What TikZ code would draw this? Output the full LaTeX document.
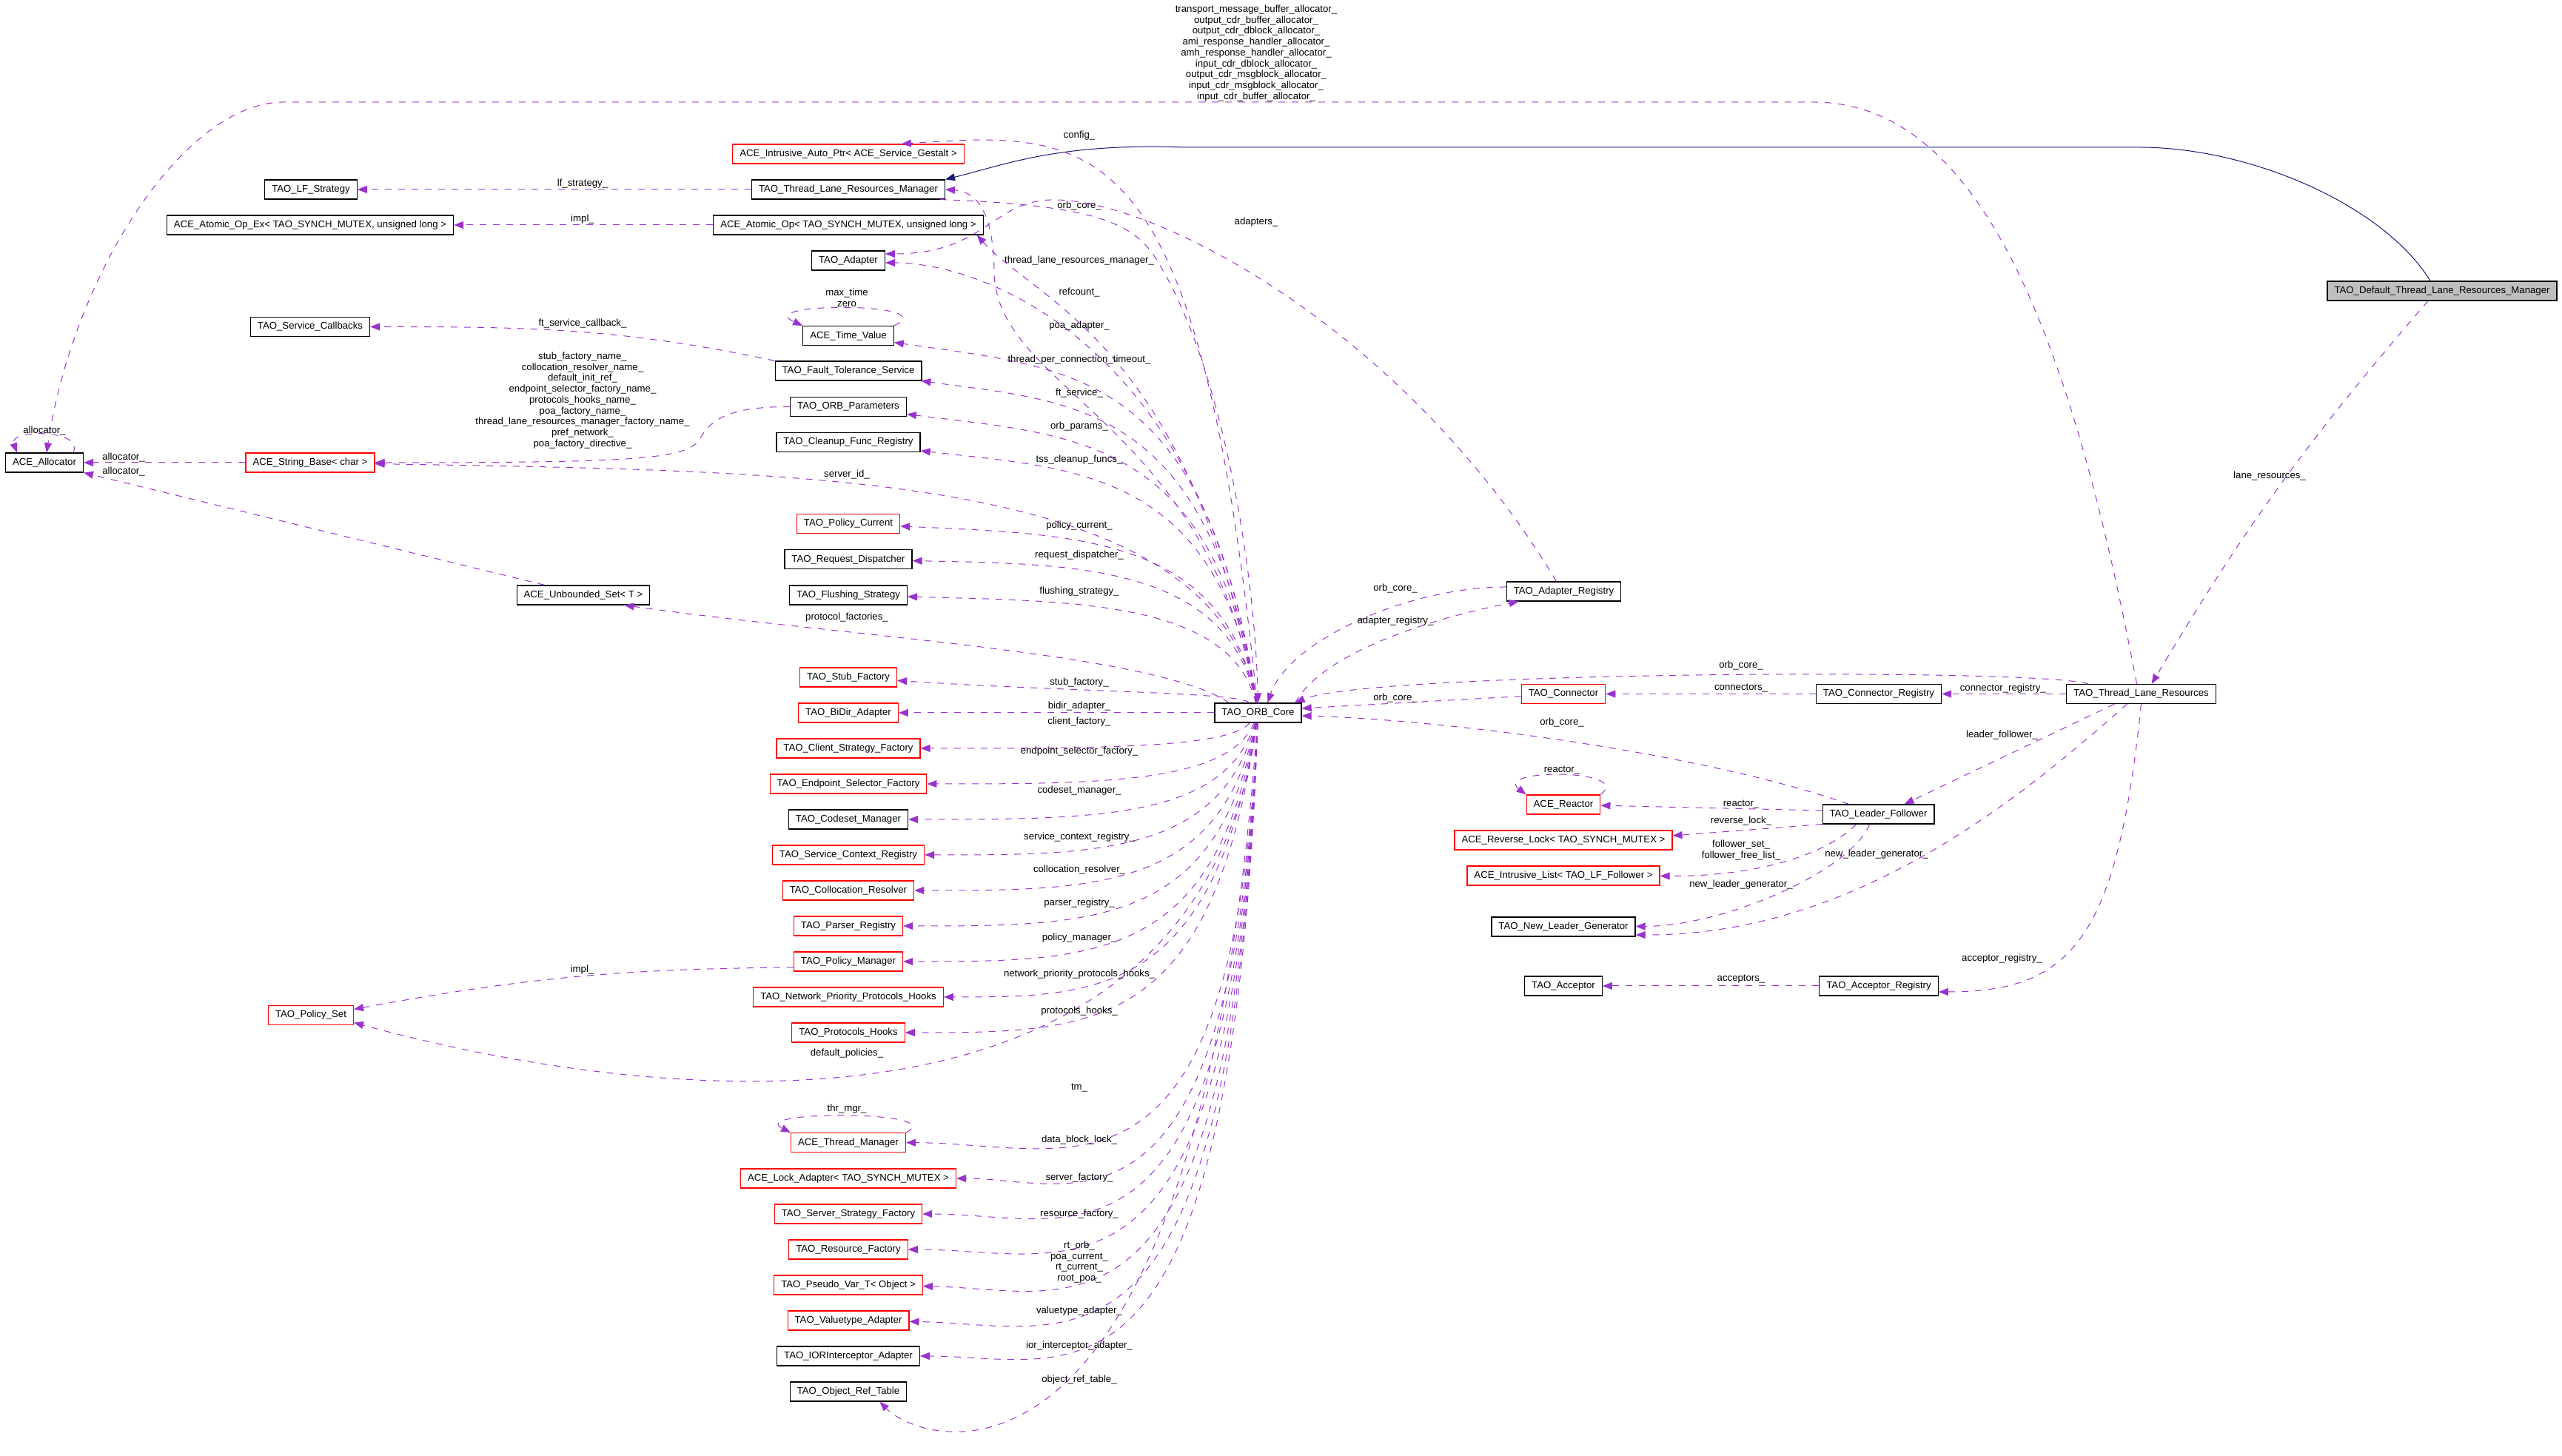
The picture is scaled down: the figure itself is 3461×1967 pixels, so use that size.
\documentclass[tikz,border=0pt]{standalone}
\usepackage{fontspec}
\setmainfont{Liberation Sans}
\usetikzlibrary{arrows.meta}

\definecolor{usecol}{HTML}{9A32CD}
\definecolor{inhcol}{HTML}{191970}
\definecolor{rootgray}{HTML}{BFBFBF}
\newcommand{\dxfont}{\fontsize{13.2}{14.7}\selectfont}

\begin{document}
\begin{tikzpicture}[x=1pt,y=1pt]

        \tikzset{cls/.style = {shape=rectangle,draw=black,line width=1.2pt,minimum height=26pt,inner xsep=9.5pt,inner ysep=0pt,font=\dxfont}}
        \tikzset{clsred/.style = {cls,draw=red}}
        \tikzset{clsroot/.style = {cls,fill=rootgray}}
        \tikzset{use/.style = {draw=usecol,line width=1pt,dash pattern=on 9pt off 9pt,-{Triangle[length=13pt,width=10pt]}}}
        \tikzset{inh/.style = {draw=inhcol,line width=1pt,-{Triangle[length=13pt,width=10pt]}}}
        \tikzset{lbl/.style = {font=\dxfont,align=center,inner sep=0pt}}

        \useasboundingbox (0,0) rectangle (3461,1967);

        % left side
        \node[cls] (alloc) at (60,1342) {ACE\_Allocator};
        \node[clsred] (strbase) at (419,1342) {ACE\_String\_Base< char >};
        \node[cls] (lfstrat) at (420,1711) {TAO\_LF\_Strategy};
        \node[cls] (atomex) at (419,1663) {ACE\_Atomic\_Op\_Ex< TAO\_SYNCH\_MUTEX, unsigned long >};
        \node[cls] (svccb) at (419,1525.5) {TAO\_Service\_Callbacks};
        \node[cls] (unbset) at (788,1163) {ACE\_Unbounded\_Set< T >};
        \node[clsred] (polset) at (420,595.5) {TAO\_Policy\_Set};

        % middle column
        \node[clsred] (autoptr) at (1146,1759) {ACE\_Intrusive\_Auto\_Ptr< ACE\_Service\_Gestalt >};
        \node[cls] (tlrm) at (1146,1711) {TAO\_Thread\_Lane\_Resources\_Manager};
        \node[cls] (atomop) at (1146,1663) {ACE\_Atomic\_Op< TAO\_SYNCH\_MUTEX, unsigned long >};
        \node[cls] (adapter) at (1146,1615) {TAO\_Adapter};
        \node[cls] (timeval) at (1146,1513.4) {ACE\_Time\_Value};
        \node[cls] (ftsvc) at (1146,1466) {TAO\_Fault\_Tolerance\_Service};
        \node[cls] (orbparams) at (1146,1417.4) {TAO\_ORB\_Parameters};
        \node[cls] (cleanup) at (1146,1369.4) {TAO\_Cleanup\_Func\_Registry};
        \node[clsred] (polcur) at (1146,1259.5) {TAO\_Policy\_Current};
        \node[cls] (reqdisp) at (1146,1211.2) {TAO\_Request\_Dispatcher};
        \node[cls] (flush) at (1146,1163) {TAO\_Flushing\_Strategy};
        \node[clsred] (stubf) at (1146,1052) {TAO\_Stub\_Factory};
        \node[clsred] (bidir) at (1146,1004) {TAO\_BiDir\_Adapter};
        \node[clsred] (clientf) at (1146,956) {TAO\_Client\_Strategy\_Factory};
        \node[clsred] (endpf) at (1146,908) {TAO\_Endpoint\_Selector\_Factory};
        \node[cls] (codeset) at (1146,860) {TAO\_Codeset\_Manager};
        \node[clsred] (svcctx) at (1146,812) {TAO\_Service\_Context\_Registry};
        \node[clsred] (colloc) at (1146,764) {TAO\_Collocation\_Resolver};
        \node[clsred] (parser) at (1146,716) {TAO\_Parser\_Registry};
        \node[clsred] (polmgr) at (1146,668) {TAO\_Policy\_Manager};
        \node[clsred] (netprio) at (1146,620) {TAO\_Network\_Priority\_Protocols\_Hooks};
        \node[clsred] (protohooks) at (1146,572) {TAO\_Protocols\_Hooks};
        \node[clsred] (thrmgr) at (1146,423.4) {ACE\_Thread\_Manager};
        \node[clsred] (lockad) at (1146,375) {ACE\_Lock\_Adapter< TAO\_SYNCH\_MUTEX >};
        \node[clsred] (srvf) at (1146,327) {TAO\_Server\_Strategy\_Factory};
        \node[clsred] (resf) at (1146,279) {TAO\_Resource\_Factory};
        \node[clsred] (pseudo) at (1146,231) {TAO\_Pseudo\_Var\_T< Object >};
        \node[clsred] (valtype) at (1146,183) {TAO\_Valuetype\_Adapter};
        \node[cls] (iorint) at (1146,135) {TAO\_IORInterceptor\_Adapter};
        \node[cls] (objref) at (1146,87) {TAO\_Object\_Ref\_Table};

        % right side
        \node[cls] (orbcore) at (1699.5,1004) {TAO\_ORB\_Core};
        \node[cls] (adreg) at (2112.5,1168) {TAO\_Adapter\_Registry};
        \node[clsred] (connector) at (2112,1029.5) {TAO\_Connector};
        \node[clsred] (reactor) at (2112,880) {ACE\_Reactor};
        \node[clsred] (revlock) at (2112,832) {ACE\_Reverse\_Lock< TAO\_SYNCH\_MUTEX >};
        \node[clsred] (ilist) at (2112,784) {ACE\_Intrusive\_List< TAO\_LF\_Follower >};
        \node[cls] (nlg) at (2112,715) {TAO\_New\_Leader\_Generator};
        \node[cls] (acceptor) at (2112,635) {TAO\_Acceptor};
        \node[cls] (connreg) at (2538,1029.5) {TAO\_Connector\_Registry};
        \node[cls] (lf) at (2537.5,867) {TAO\_Leader\_Follower};
        \node[cls] (accreg) at (2538,635) {TAO\_Acceptor\_Registry};
        \node[cls] (tlr) at (2892.5,1029.5) {TAO\_Thread\_Lane\_Resources};
        \node[clsroot] (dtlrm) at (3299,1574) {TAO\_Default\_Thread\_Lane\_Resources\_Manager};

        % inheritance
        \draw[inh] ([xshift=-16pt]dtlrm.north) .. controls (3220,1690) and (3040,1768) .. (2890,1768)
            -- (1600,1768) .. controls (1430,1774) and (1360,1745) .. (tlrm.north east);

        % allocators
        \draw[use] ([xshift=-6pt]tlr.north) .. controls (2800,1500) and (2680,1829) .. (2450,1829)
            -- (383,1829) .. controls (250,1829) and (100,1600) .. ([xshift=3pt]alloc.north);
        \node[lbl] (l-allocs) at (1697,1895) {transport\_message\_buffer\_allocator\_\\output\_cdr\_buffer\_allocator\_\\output\_cdr\_dblock\_allocator\_\\ami\_response\_handler\_allocator\_\\amh\_response\_handler\_allocator\_\\input\_cdr\_dblock\_allocator\_\\output\_cdr\_msgblock\_allocator\_\\input\_cdr\_msgblock\_allocator\_\\input\_cdr\_buffer\_allocator\_};
        \draw[use] ([xshift=39pt]alloc.north) .. controls +(15,32) and +(-12,32) .. ([xshift=-37pt]alloc.north);
        \node[lbl] (l-allocself) at (60,1385) {allocator\_};
        \draw[use] (strbase) -- (alloc);
        \node[lbl] (l-allocstr) at (167,1349) {allocator\_};
        \draw[use] ([xshift=38pt]unbset.north west) -- (alloc.south east);
        \node[lbl] (l-allocset) at (167,1329.5) {allocator\_};

        \draw[use] (tlrm) -- (lfstrat);
        \node[lbl] (l-lfs) at (787,1719) {lf\_strategy\_};
        \draw[use] (atomop) -- (atomex);
        \node[lbl] (l-impl1) at (787,1671) {impl\_};
        \draw[use] (ftsvc.north west) to[out=168,in=0] (svccb);
        \node[lbl] (l-ftcb) at (787,1530) {ft\_service\_callback\_};
        \draw[use] (orbparams.west) .. controls (985,1418) and (960,1400) .. (946,1375)
            .. controls (930,1346) and (860,1342) .. (strbase.east);
        \node[lbl] (l-names) at (787,1426) {stub\_factory\_name\_\\collocation\_resolver\_name\_\\default\_init\_ref\_\\endpoint\_selector\_factory\_name\_\\protocols\_hooks\_name\_\\poa\_factory\_name\_\\thread\_lane\_resources\_manager\_factory\_name\_\\pref\_network\_\\poa\_factory\_directive\_};
        \draw[use] (orbcore) .. controls (1640,1330) and (1100,1330) .. (strbase);
        \node[lbl] (l-sid) at (1144,1325.5) {server\_id\_};
        \draw[use] ([xshift=20pt]orbcore.north west) .. controls (1560,1085) and (1150,1106) .. ([xshift=-35pt]unbset.south east);
        \node[lbl] (l-pf) at (1144,1133) {protocol\_factories\_};
        \draw[use] ([yshift=-8pt]polmgr.west) to[bend right=5] ([yshift=8pt]polset.east);
        \node[lbl] (l-impl2) at (786.5,657) {impl\_};
        \draw[use] (orbcore) .. controls (1620,400) and (900,470) .. ([yshift=-10pt]polset.east);
        \node[lbl] (l-dp) at (1144,543.5) {default\_policies\_};

        % self loops
        \draw[use] (timeval.north east) .. controls +(70,32) and +(-70,32) .. (timeval.north west);
        \node[lbl] (l-tv) at (1144,1565) {max\_time\\zero};
        \draw[use] (thrmgr.north east) .. controls +(60,30) and +(-60,30) .. (thrmgr.north west);
        \node[lbl] (l-thr) at (1144,468.6) {thr\_mgr\_};
        \draw[use] (reactor.north east) .. controls +(45,35) and +(-45,35) .. (reactor.north west);
        \node[lbl] (l-reactself) at (2110,926) {reactor\_};

        % ORB core, upper fan
        \draw[use] (orbcore) .. controls (1620,1800) and (1480,1790) .. ([xshift=-85pt]autoptr.north east);
        \node[lbl] (l-config) at (1458,1783.5) {config\_};
        \draw[use] (orbcore) .. controls (1630,1400) and (1345,1440) .. (1343,1600)
            .. controls (1342,1680) and (1320,1708) .. (tlrm.east);
        \node[lbl] (l-tlrm) at (1458,1615) {thread\_lane\_resources\_manager\_};
        \draw[use] ([xshift=-7pt]tlrm.south east) .. controls (1480,1690) and (1530,1665) .. (1560,1620)
            .. controls (1650,1480) and (1695,1200) .. (orbcore.north);
        \node[lbl] (l-oc1) at (1458,1689) {orb\_core\_};
        \draw[use] (orbcore) .. controls (1610,1500) and (1400,1560) .. ([xshift=-9pt]atomop.south east);
        \node[lbl] (l-refc) at (1458,1572) {refcount\_};
        \draw[use] ([xshift=-10pt]adreg.north) .. controls (1900,1520) and (1560,1700) .. (1420,1697)
            .. controls (1340,1695) and (1330,1624) .. ([yshift=9pt]adapter.east);
        \node[lbl] (l-adapters) at (1697,1667) {adapters\_};
        \draw[use] (orbcore) .. controls (1630,1500) and (1330,1612) .. ([yshift=-3pt]adapter.east);
        \node[lbl] (l-poa) at (1458,1527) {poa\_adapter\_};
        \draw[use] (orbcore) .. controls (1629,1469) and (1450,1469) .. (timeval);
        \node[lbl] (l-tpct) at (1458,1481) {thread\_per\_connection\_timeout\_};
        \draw[use] (orbcore) .. controls (1634,1424) and (1450,1424) .. (ftsvc);
        \node[lbl] (l-fts) at (1458,1436) {ft\_service\_};
        \draw[use] (orbcore) .. controls (1639,1379) and (1450,1379) .. (orbparams);
        \node[lbl] (l-orbp) at (1458,1391) {orb\_params\_};
        \draw[use] (orbcore) .. controls (1643,1334) and (1450,1334) .. (cleanup);
        \node[lbl] (l-tss) at (1458,1345.6) {tss\_cleanup\_funcs\_};
        \draw[use] (orbcore) .. controls (1654,1245) and (1450,1245) .. (polcur);
        \node[lbl] (l-pcur) at (1458,1257) {policy\_current\_};
        \draw[use] (orbcore) .. controls (1659,1205) and (1450,1205) .. (reqdisp);
        \node[lbl] (l-rd) at (1458,1216.6) {request\_dispatcher\_};
        \draw[use] (orbcore) .. controls (1664,1155) and (1450,1155) .. (flush);
        \node[lbl] (l-fls) at (1458,1167.4) {flushing\_strategy\_};
        \draw[use] (orbcore) .. controls (1675,1032) and (1450,1032) .. (stubf);
        \node[lbl] (l-stub) at (1458,1045) {stub\_factory\_};
        \draw[use] (orbcore) -- (bidir);
        \node[lbl] (l-bidir) at (1458,1012.5) {bidir\_adapter\_};

        % ORB core, lower fan
        \draw[use] (orbcore) .. controls (1660,956) and (1480,956) .. (clientf);
        \node[lbl] (l-cf) at (1458,992) {client\_factory\_};
        \draw[use] (orbcore) .. controls (1660,908) and (1480,908) .. (endpf);
        \node[lbl] (l-esf) at (1458,952.3) {endpoint\_selector\_factory\_};
        \draw[use] (orbcore) .. controls (1655,860) and (1480,860) .. (codeset);
        \node[lbl] (l-csm) at (1458,899) {codeset\_manager\_};
        \draw[use] (orbcore) .. controls (1650,812) and (1480,812) .. (svcctx);
        \node[lbl] (l-scr) at (1458,836) {service\_context\_registry\_};
        \draw[use] (orbcore) .. controls (1648,764) and (1480,764) .. (colloc);
        \node[lbl] (l-cr) at (1458,792.4) {collocation\_resolver\_};
        \draw[use] (orbcore) .. controls (1645,716) and (1480,716) .. (parser);
        \node[lbl] (l-pr) at (1458,747.4) {parser\_registry\_};
        \draw[use] (orbcore) .. controls (1642,668) and (1480,668) .. (polmgr);
        \node[lbl] (l-pm) at (1458,700) {policy\_manager\_};
        \draw[use] (orbcore) .. controls (1640,620) and (1480,620) .. (netprio);
        \node[lbl] (l-npph) at (1458,651) {network\_priority\_protocols\_hooks\_};
        \draw[use] (orbcore) .. controls (1638,572) and (1480,572) .. (protohooks);
        \node[lbl] (l-ph) at (1458,600.5) {protocols\_hooks\_};
        \draw[use] (orbcore) .. controls (1665,303) and (1450,423) .. (thrmgr);
        \node[lbl] (l-tm) at (1458,497) {tm\_};
        \draw[use] (orbcore) .. controls (1665,255) and (1450,375) .. (lockad);
        \node[lbl] (l-dbl) at (1458,427.4) {data\_block\_lock\_};
        \draw[use] (orbcore) .. controls (1665,207) and (1450,327) .. (srvf);
        \node[lbl] (l-sf) at (1458,376) {server\_factory\_};
        \draw[use] (orbcore) .. controls (1665,159) and (1450,279) .. (resf);
        \node[lbl] (l-rf) at (1458,327.2) {resource\_factory\_};
        \draw[use] (orbcore) .. controls (1665,111) and (1450,226) .. (pseudo);
        \node[lbl] (l-rt) at (1458,262) {rt\_orb\_\\poa\_current\_\\rt\_current\_\\root\_poa\_};
        \draw[use] (orbcore) .. controls (1665,63) and (1450,178) .. (valtype);
        \node[lbl] (l-va) at (1458,196.3) {valuetype\_adapter\_};
        \draw[use] (orbcore) .. controls (1665,15) and (1450,135) .. (iorint);
        \node[lbl] (l-ior) at (1458,149) {ior\_interceptor\_adapter\_};
        \draw[use] (orbcore) .. controls (1620,-100) and (1250,10) .. ([xshift=-37pt]objref.south east);
        \node[lbl] (l-ort) at (1458,103.4) {object\_ref\_table\_};

        % registries and lanes
        \draw[use] ([yshift=6pt]adreg.west) .. controls (1900,1174) and (1740,1100) .. ([xshift=13pt]orbcore.north);
        \node[lbl] (l-oc2) at (1885,1172) {orb\_core\_};
        \draw[use] ([xshift=-9pt]orbcore.north east) .. controls (1790,1090) and (1950,1135) .. ([xshift=17pt]adreg.south west);
        \node[lbl] (l-adreg) at (1885,1128) {adapter\_registry\_};
        \draw[use] (connector) -- ([yshift=6pt]orbcore.east);
        \node[lbl] (l-oc3) at (1885,1024) {orb\_core\_};
        \draw[use] ([xshift=30pt]tlr.north west) .. controls (2750,1065) and (1850,1060) .. ([xshift=-9pt]orbcore.north east);
        \node[lbl] (l-oc4) at (2352,1068.3) {orb\_core\_};
        \draw[use] (connreg) -- (connector);
        \node[lbl] (l-conns) at (2352,1037) {connectors\_};
        \draw[use] (tlr) -- (connreg);
        \node[lbl] (l-connreg) at (2705.8,1037) {connector\_registry\_};
        \draw[use] ([xshift=-40pt]lf.north) .. controls (2300,950) and (1950,995) .. ([yshift=-4pt]orbcore.east);
        \node[lbl] (l-oc5) at (2110,991) {orb\_core\_};
        \draw[use] ([yshift=5pt]lf.west) -- (reactor);
        \node[lbl] (l-react) at (2352,880.4) {reactor\_};
        \draw[use] (lf.south west) -- ([yshift=6pt]revlock.east);
        \node[lbl] (l-rlock) at (2352,857.6) {reverse\_lock\_};
        \draw[use] ([xshift=-30pt]lf.south) .. controls (2470,815) and (2380,783) .. (ilist);
        \node[lbl] (l-fset) at (2352,818.5) {follower\_set\_\\follower\_free\_list\_};
        \draw[use] ([xshift=-12pt]lf.south) .. controls (2500,790) and (2330,716) .. (nlg);
        \node[lbl] (l-nlg1) at (2352,772.4) {new\_leader\_generator\_};
        \draw[use] ([xshift=-19pt]tlr.south) .. controls (2720,880) and (2500,703) .. ([yshift=-11pt]nlg.east);
        \node[lbl] (l-nlg2) at (2535,813.4) {new\_leader\_generator\_};
        \draw[use] ([xshift=-36pt]tlr.south) -- ([xshift=35pt]lf.north);
        \node[lbl] (l-lf) at (2704.5,973.7) {leader\_follower\_};
        \draw[use] (tlr.south) .. controls (2860,700) and (2800,627) .. ([yshift=-8pt]accreg.east);
        \node[lbl] (l-accreg) at (2704.5,671.5) {acceptor\_registry\_};
        \draw[use] (accreg) -- (acceptor);
        \node[lbl] (l-acc) at (2352,644.2) {acceptors\_};
        \draw[use] ([xshift=-19pt]dtlrm.south) to[bend right=5] ([xshift=14pt]tlr.north);
        \node[lbl] (l-lane) at (3066,1324) {lane\_resources\_};

\end{tikzpicture}
\end{document}
